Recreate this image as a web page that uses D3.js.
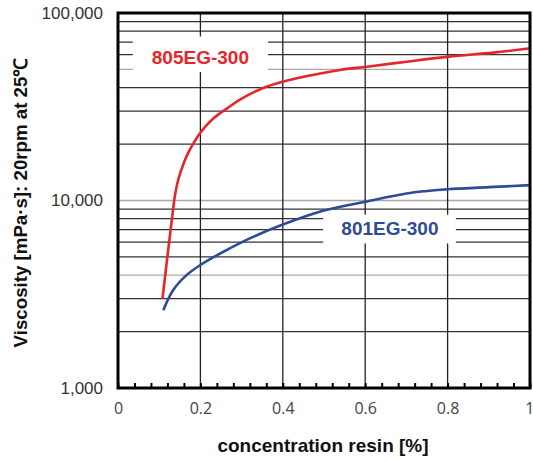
<!DOCTYPE html>
<html>
<head>
<meta charset="utf-8">
<script src="https://cdn.jsdelivr.net/npm/d3@7"></script>
<style>
    body { margin: 0; background: #fff; }
    text { font-family: "Liberation Sans", Arial, sans-serif; }
</style>
</head>
<body>
<div id="root"></div>
<script>
// values
var redX = [0.108, 0.1335, 0.139, 0.147, 0.16, 0.17, 0.182, 0.2, 0.222, 0.243, 0.265, 0.296, 0.345, 0.401, 0.466, 0.539, 0.604, 0.701, 0.803, 0.911, 1.0];
var redY = [3000, 8890, 10900, 13100, 15900, 17900, 20000, 23000, 26200, 28700, 31000, 34500, 39200, 43100, 46400, 49700, 51700, 55000, 58500, 61500, 64800];

var blueX = [0.11, 0.134, 0.167, 0.2, 0.256, 0.32, 0.4, 0.5, 0.6, 0.7, 0.75, 0.8, 0.9, 1.0];
var blueY = [2600, 3330, 4010, 4530, 5330, 6280, 7450, 8850, 9850, 10900, 11240, 11490, 11780, 12080];

var xTicks = [0, 0.2, 0.4, 0.6, 0.8, 1];
var yTicks = [1000, 10000, 100000];
var yGrid = [2000, 3000, 4000, 5000, 6000, 7000, 8000, 9000, 10000,
    20000, 30000, 40000, 50000, 60000, 70000, 80000, 90000];
var yGridLight = [4000, 10000, 50000];

// set the dimensions and margins of the graph
var margin = { top: 13, right: 3, bottom: 73, left: 118 },
    width = 533 - margin.left - margin.right,
    height = 461 - margin.top - margin.bottom;

var svg = d3
    .select("#root")
    .append("svg")
    .attr("width", width + margin.left + margin.right)
    .attr("height", height + margin.top + margin.bottom)
    .append("g")
    .attr("transform", "translate(" + margin.left + "," + margin.top + ")");

var x = d3.scaleLinear().domain([0, 1]).range([0, width]);
var y = d3.scaleLog().domain([1000, 100000]).range([height, 0]);

// horizontal grid
svg.append("g")
    .selectAll("line")
    .data(yGrid)
    .enter()
    .append("line")
    .attr("x1", 0)
    .attr("x2", width)
    .attr("y1", (d) => y(d))
    .attr("y2", (d) => y(d))
    .style("stroke", (d) => (yGridLight.indexOf(d) >= 0 ? "#a8a8a8" : "#333"))
    .style("stroke-width", 1.3);

// vertical grid
svg.append("g")
    .selectAll("line")
    .data(xTicks.slice(1, -1))
    .enter()
    .append("line")
    .attr("x1", (d) => x(d))
    .attr("x2", (d) => x(d))
    .attr("y1", 0)
    .attr("y2", height)
    .style("stroke", "#222")
    .style("stroke-width", 1.3);

// minor ticks along the bottom, pointing inward
var minor = svg.append("g")
    .attr("transform", "translate(0," + height + ")")
    .call(d3.axisBottom(x).tickValues(d3.range(0, 1.001, 0.04)).tickSize(-5).tickFormat(""));
minor.select(".domain").remove();
minor.selectAll("line").style("stroke", "#000").style("stroke-width", 2);

// label boxes (white, hide the grid behind)
var labels = [
    { name: "805EG-300", color: "#e8242b", x0: 0.036, x1: 0.364, v0: 48500, v1: 75000, tx: 0.2, tv: 57000 },
    { name: "801EG-300", color: "#2e4a98", x0: 0.498, x1: 0.82, v0: 5900, v1: 8400, tx: 0.66, tv: 7000 }
];

svg.append("g")
    .selectAll("rect")
    .data(labels)
    .enter()
    .append("rect")
    .attr("x", (d) => x(d.x0))
    .attr("y", (d) => y(d.v1))
    .attr("width", (d) => x(d.x1) - x(d.x0))
    .attr("height", (d) => y(d.v0) - y(d.v1))
    .style("fill", "#fff");

svg.append("g")
    .selectAll("text")
    .data(labels)
    .enter()
    .append("text")
    .attr("x", (d) => x(d.tx))
    .attr("y", (d) => y(d.tv))
    .attr("text-anchor", "middle")
    .attr("dominant-baseline", "middle")
    .style("font-size", "19px")
    .style("font-weight", "bold")
    .style("fill", (d) => d.color)
    .text((d) => d.name);

// curves
var line = d3.line()
    .x((d) => x(d[0]))
    .y((d) => y(d[1]))
    .curve(d3.curveCatmullRom.alpha(0.5));

svg.append("path")
    .datum(d3.zip(redX, redY))
    .attr("d", line)
    .style("fill", "none")
    .style("stroke", "#e8242b")
    .style("stroke-width", 2.6);

svg.append("path")
    .datum(d3.zip(blueX, blueY))
    .attr("d", line)
    .style("fill", "none")
    .style("stroke", "#2e4a98")
    .style("stroke-width", 2.6);

// frame
svg.append("rect")
    .attr("x", 0)
    .attr("y", 0)
    .attr("width", width)
    .attr("height", height)
    .style("fill", "none")
    .style("stroke", "#000")
    .style("stroke-width", 3);

// axes labels
var xAxis = svg.append("g")
    .attr("transform", "translate(0," + height + ")")
    .call(d3.axisBottom(x).tickValues(xTicks).tickSize(0).tickPadding(15).tickFormat(d3.format("~g")));
xAxis.select(".domain").remove();
xAxis.selectAll("text")
    .style("font-family", "'Open Sans', 'DejaVu Sans', sans-serif")
    .style("font-size", "16px")
    .style("fill", "#444");
xAxis.selectAll("text")
    .filter((d) => d === 1)
    .attr("text-anchor", "end")
    .attr("dx", "4px");

var yAxis = svg.append("g")
    .call(d3.axisLeft(y).tickValues(yTicks).tickSize(0).tickPadding(15).tickFormat(d3.format(",")));
yAxis.select(".domain").remove();
yAxis.selectAll("text")
    .style("font-size", "17px")
    .style("fill", "#333");

svg.append("text")
    .attr("x", width / 2 - 1)
    .attr("y", height + 64)
    .attr("text-anchor", "middle")
    .style("font-size", "19px")
    .style("font-weight", "bold")
    .style("fill", "#111")
    .text("concentration resin [%]");

svg.append("text")
    .attr("transform", "translate(" + (-91) + "," + (height / 2 + 2) + ") rotate(-90)")
    .attr("text-anchor", "middle")
    .style("font-size", "18.7px")
    .style("font-weight", "bold")
    .style("fill", "#111")
    .text("Viscosity [mPa·s]: 20rpm at 25℃");
</script>
</body>
</html>
